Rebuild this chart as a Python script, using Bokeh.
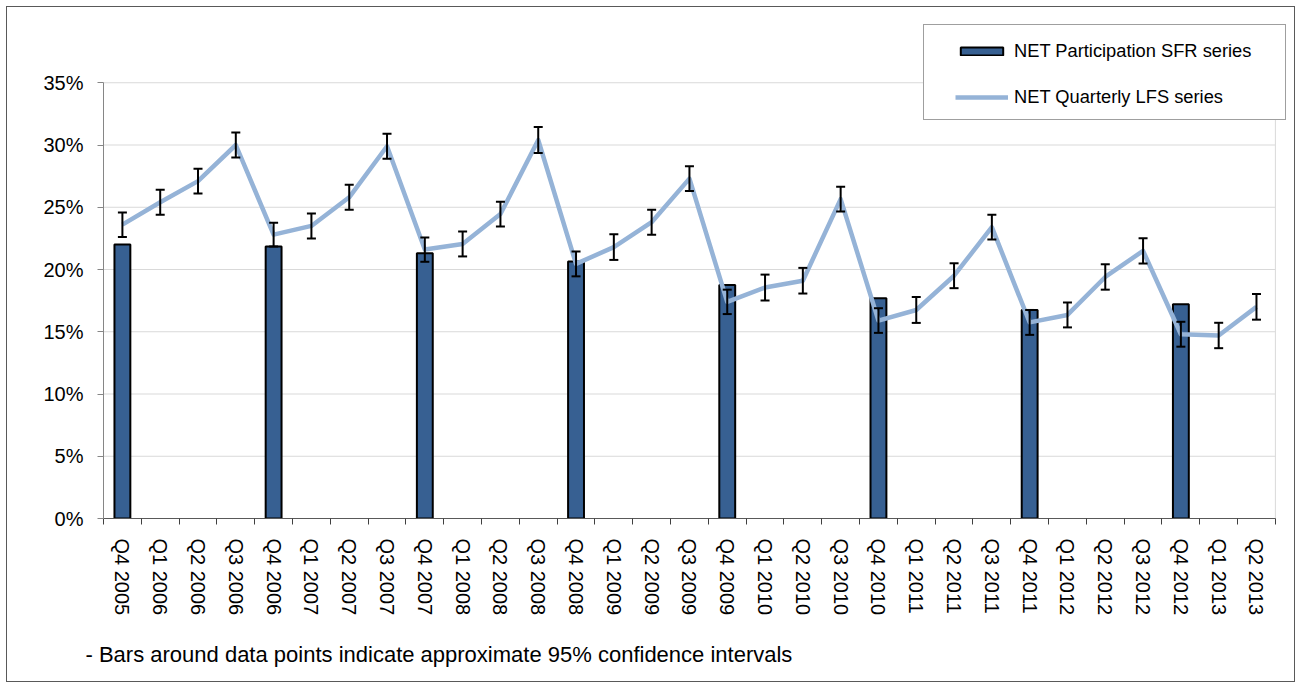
import math
from bokeh.plotting import figure
from bokeh.models import (ColumnDataSource, Range1d, LinearAxis, FixedTicker, Whisker, TeeHead,
                          Legend, LegendItem, Title, PrintfTickFormatter,
                          CustomJSTickFormatter)
from bokeh.embed import file_html
from bokeh.resources import INLINE

# ---------------- data ----------------
quarters = ["Q4 2005", "Q1 2006", "Q2 2006", "Q3 2006", "Q4 2006", "Q1 2007", "Q2 2007", "Q3 2007",
            "Q4 2007", "Q1 2008", "Q2 2008", "Q3 2008", "Q4 2008", "Q1 2009", "Q2 2009", "Q3 2009",
            "Q4 2009", "Q1 2010", "Q2 2010", "Q3 2010", "Q4 2010", "Q1 2011", "Q2 2011", "Q3 2011",
            "Q4 2011", "Q1 2012", "Q2 2012", "Q3 2012", "Q4 2012", "Q1 2013", "Q2 2013"]

lfs_values = [23.6, 25.4, 27.1, 30.0, 22.8, 23.5, 25.8, 29.9,
              21.6, 22.05, 24.45, 30.4, 20.45, 21.8, 23.8, 27.3,
              17.4, 18.55, 19.1, 25.65, 15.9, 16.75, 19.5, 23.4,
              15.75, 16.35, 19.4, 21.5, 14.8, 14.7, 17.0]

lfs_ci = [0.98, 1.0, 1.0, 1.0, 0.95, 1.0, 1.0, 1.0,
          0.98, 1.0, 1.0, 1.04, 1.0, 1.03, 1.0, 1.0,
          0.98, 1.04, 1.03, 1.0, 0.99, 1.04, 1.0, 1.0,
          1.0, 1.0, 1.02, 1.02, 1.0, 1.02, 1.03]

sfr_quarters = ["Q4 2005", "Q4 2006", "Q4 2007", "Q4 2008", "Q4 2009", "Q4 2010", "Q4 2011", "Q4 2012"]
sfr_values = [22.0, 21.85, 21.3, 20.65, 18.75, 17.7, 16.75, 17.2]

y_ticks = [0, 5, 10, 15, 20, 25, 30, 35]

series_names = ["NET Participation SFR series", "NET Quarterly LFS series"]
footnote = "- Bars around data points indicate approximate 95% confidence intervals"

# ---------------- figure ----------------
FONT = "Liberation Sans"
BAR_COLOR = "#376092"
LINE_COLOR = "#95B3D7"
GRID_COLOR = "#D9D9D9"

n = len(quarters)
y_top = y_ticks[-1]
pos = {q: i + 0.5 for i, q in enumerate(quarters)}  # category centres on the axis scale

p = figure(width=1301, height=688, output_backend="svg", toolbar_location=None,
           x_range=Range1d(0, 31.4), y_range=Range1d(0, 40),
           x_axis_location=None, y_axis_location=None,
           min_border_left=103, min_border_right=11, min_border_top=20, min_border_bottom=170)
p.outline_line_color = None
p.background_fill_color = "white"
p.border_fill_color = None
# outer chart-area border (drawn by the page behind the transparent border area)
p.styles = {"background-color": "white",
            "box-shadow": "inset 0 0 0 6px white, inset 0 0 0 7px #595959"}
p.xgrid.grid_line_color = None
p.ygrid.grid_line_color = None

# y axis
yaxis = LinearAxis(ticker=FixedTicker(ticks=y_ticks, minor_ticks=[]),
                   formatter=PrintfTickFormatter(format="%d%%"), bounds=(0, y_top))
yaxis.axis_line_color = "#868686"
yaxis.major_tick_line_color = "#868686"
yaxis.major_tick_out = 6
yaxis.major_tick_in = 0
yaxis.major_label_standoff = 14
yaxis.major_label_text_font = FONT
yaxis.major_label_text_font_size = "20px"
yaxis.major_label_text_color = "black"
p.add_layout(yaxis, "left")

# x axis: labels at category centres, tick marks between categories
xaxis = LinearAxis(ticker=FixedTicker(ticks=[pos[q] for q in quarters],
                                      minor_ticks=list(range(n + 1))),
                   formatter=CustomJSTickFormatter(args=dict(labels=quarters),
                                                   code="return labels[Math.floor(tick)] || ''"),
                   bounds=(0, n))
xaxis.axis_line_color = "#595959"
xaxis.major_tick_line_color = None
xaxis.major_tick_out = 0
xaxis.major_tick_in = 0
xaxis.minor_tick_line_color = "#404040"
xaxis.minor_tick_out = 6
xaxis.minor_tick_in = 0
xaxis.major_label_orientation = -math.pi / 2
xaxis.major_label_standoff = 14
xaxis.major_label_text_font = FONT
xaxis.major_label_text_font_size = "20px"
xaxis.major_label_text_color = "black"
p.add_layout(xaxis, "below")

# horizontal gridlines and right edge of the plot area
p.segment(x0=[0] * (len(y_ticks) - 1), x1=[n] * (len(y_ticks) - 1), y0=y_ticks[1:], y1=y_ticks[1:],
          line_color=GRID_COLOR, line_width=1, level="underlay")
p.segment(x0=[n], x1=[n], y0=[0], y1=[y_top], line_color=GRID_COLOR, line_width=1, level="underlay")

# bars
bar_src = ColumnDataSource(dict(x=[pos[q] for q in sfr_quarters], v=sfr_values))
bars = p.vbar(x="x", top="v", width=0.42, source=bar_src, fill_color=BAR_COLOR,
              line_color="black", line_width=2)

# line
lfs_src = ColumnDataSource(dict(x=[pos[q] for q in quarters], v=lfs_values,
                                lo=[v - c for v, c in zip(lfs_values, lfs_ci)],
                                hi=[v + c for v, c in zip(lfs_values, lfs_ci)]))
line = p.line(x="x", y="v", source=lfs_src, line_color=LINE_COLOR, line_width=4.5,
              line_join="round")

# error bars
wh = Whisker(base="x", lower="lo", upper="hi", source=lfs_src, dimension="height",
             line_color="black", line_width=2, level="annotation",
             upper_head=TeeHead(size=9, line_width=2, line_color="black"),
             lower_head=TeeHead(size=9, line_width=2, line_color="black"))
p.add_layout(wh)

# legend box (frame only)
dummy = p.line(x=[], y=[], line_alpha=0)
box = Legend(items=[LegendItem(label=" ", renderers=[dummy])], location=(820, 398),
             padding=0, margin=0, spacing=0, glyph_width=300, glyph_height=94,
             label_width=61, label_height=94, label_standoff=0,
             border_line_color="#404040", border_line_width=1,
             background_fill_color="white", background_fill_alpha=1)
box.label_text_font_size = "1px"
p.add_layout(box, "center")

leg = Legend(items=[LegendItem(label=series_names[0], renderers=[bars]),
                    LegendItem(label=series_names[1], renderers=[line])],
             location=(852, 410), padding=0, margin=0, spacing=24,
             glyph_width=53, glyph_height=10, label_height=10, label_standoff=6,
             border_line_alpha=0, background_fill_alpha=0)
leg.label_text_font = FONT
leg.label_text_font_size = "18.3px"
leg.label_text_color = "black"
leg.label_text_baseline = "middle"
p.add_layout(leg, "center")

# footnote
note = Title(text=footnote, align="left", offset=-18, standoff=43,
             text_font=FONT, text_font_size="22px", text_font_style="normal",
             text_color="black")
p.add_layout(note, "below")

open("out.html", "w").write(file_html(p, INLINE))
